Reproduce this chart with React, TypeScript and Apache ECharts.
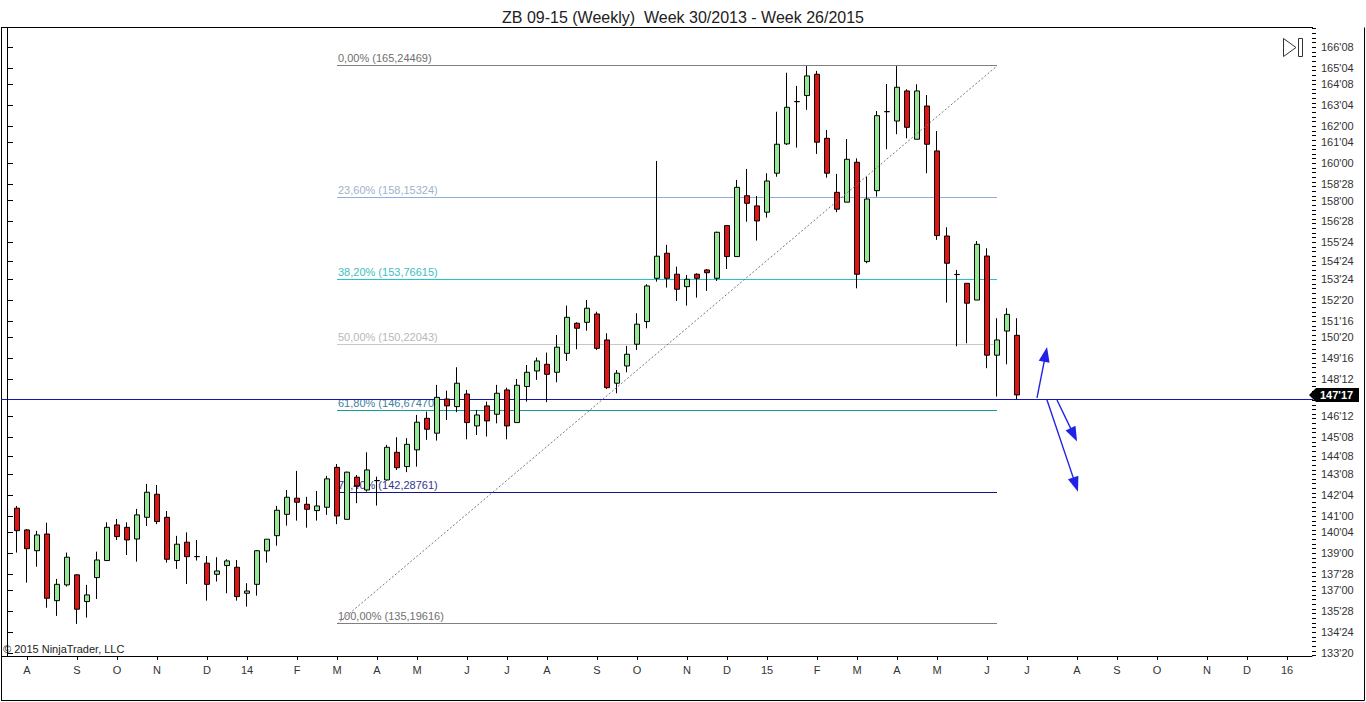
import React, { useEffect, useRef } from "react";
import * as echarts from "echarts";

const chartTitle = "ZB 09-15 (Weekly)  Week 30/2013 - Week 26/2015";
const copyright = "\u00a9 2015 NinjaTrader, LLC";

// weekly bars (Friday dates), week 30/2013 .. week 26/2015; slot 0 is an empty leading week
const firstSlotFriday = Date.UTC(2013, 6, 19);
const slotCount = 131;

const opens = [
  141.43, 140.26, 139.14, 140.04, 136.45, 137.3, 137.84, 136.4, 137.69, 138.61,
  140.53, 140.4, 139.77, 140.94, 142.18, 140.94, 138.61, 139.6, 138.83, 138.47,
  137.87, 138.34, 138.25, 136.85, 137.33, 139.13, 139.95, 141.1, 141.97, 141.64,
  141.3, 141.48, 143.63, 140.83, 143.1, 142.41, 142.92, 142.95, 144.44, 143.67,
  144.57, 146.27, 145.47, 147.31, 146.9, 147.58, 145.86, 146.94, 146.49, 147.8,
  146.04, 147.98, 148.82, 149.18, 148.75, 149.77, 151.39, 151.44, 151.89, 150.49,
  148.16, 149.09, 150.26, 151.48, 153.81, 155.16, 154.03, 153.36, 154.03, 154.26,
  153.81, 156.65, 154.98, 158.26, 157.71, 157.37, 159.47, 161.05, 163.33, 163.65,
  164.8, 161.35, 158.44, 157.91, 160.06, 154.71, 158.53, 162.79, 162.28, 163.9,
  161.3, 163.09, 160.67, 156.09, 154.02, 153.54, 152.64, 155.01, 149.67, 150.97,
  150.74,
];
const closes = [
  140.22, 139.25, 139.99, 136.58, 137.33, 138.79, 135.99, 136.76, 138.64, 140.4,
  139.9, 139.72, 141.07, 142.29, 140.71, 138.68, 139.49, 138.82, 138.82, 137.33,
  138.05, 138.59, 136.67, 136.97, 139.14, 139.76, 141.32, 142.02, 141.75, 141.37,
  141.55, 143.01, 141.01, 143.37, 142.63, 143.49, 142.91, 144.71, 143.61, 144.87,
  146.06, 145.68, 147.4, 146.94, 148.16, 146.04, 146.45, 146.13, 147.62, 145.86,
  148.05, 148.75, 149.36, 148.64, 150.1, 151.71, 151.12, 152.2, 150.04, 147.92,
  148.7, 149.72, 151.34, 153.4, 155.0, 153.81, 153.22, 153.76, 153.81, 154.11,
  156.29, 154.98, 158.71, 157.85, 156.9, 159.05, 161.03, 163.02, 163.32, 164.71,
  161.14, 159.47, 157.53, 160.22, 154.03, 158.08, 162.57, 162.78, 164.1, 161.94,
  163.9, 161.03, 156.11, 154.62, 154.01, 152.47, 155.64, 149.67, 150.49, 151.87,
  147.53,
];
const lows = [
  139.04, 137.42, 138.28, 136.07, 135.63, 137.21, 135.2, 135.54, 136.54, 138.61,
  139.72, 138.91, 138.55, 140.47, 140.57, 138.5, 138.16, 137.35, 138.61, 136.45,
  137.48, 136.85, 136.45, 136.13, 136.72, 138.5, 139.41, 140.49, 140.76, 140.38,
  140.76, 141.07, 140.57, 140.83, 141.7, 142.32, 141.57, 142.91, 143.49, 143.37,
  143.67, 145.11, 145.07, 146.18, 146.6, 145.14, 145.37, 145.29, 146.0, 145.14,
  146.04, 147.17, 148.34, 147.14, 148.21, 149.36, 149.99, 150.99, 149.95, 147.85,
  147.62, 148.75, 149.95, 151.12, 153.63, 153.31, 152.59, 152.34, 152.77, 153.13,
  153.67, 154.31, 154.98, 156.86, 155.84, 157.08, 159.28, 160.99, 160.85, 162.88,
  160.51, 159.23, 157.37, 157.91, 153.27, 154.62, 158.21, 160.76, 161.57, 161.35,
  161.3, 159.47, 155.88, 152.5, 150.15, 150.31, 152.64, 148.97, 147.44, 149.18,
  147.3,
];
const highs = [
  141.55, 140.31, 140.21, 140.65, 137.62, 139.04, 137.87, 137.3, 139.09, 140.67,
  140.85, 140.67, 141.39, 142.74, 142.68, 141.28, 139.94, 140.13, 139.72, 138.86,
  138.79, 138.68, 138.64, 137.39, 139.18, 139.76, 141.55, 142.41, 143.44, 142.04,
  142.36, 143.17, 143.81, 143.4, 143.22, 144.44, 143.13, 144.84, 145.25, 145.2,
  146.45, 146.63, 148.07, 147.76, 149.02, 147.8, 146.72, 147.17, 148.07, 147.92,
  148.39, 149.14, 149.54, 149.81, 150.76, 152.34, 151.44, 152.64, 152.01, 150.85,
  148.87, 150.17, 151.93, 153.49, 160.13, 155.61, 154.44, 153.99, 154.08, 154.31,
  156.32, 156.68, 159.11, 159.7, 158.24, 159.47, 162.78, 164.88, 164.17, 165.24,
  164.98, 161.8, 159.43, 161.31, 160.27, 159.28, 162.82, 164.28, 165.24, 163.99,
  164.26, 163.68, 161.74, 156.56, 154.26, 153.54, 155.82, 155.43, 151.66, 152.2,
  151.66,
];

const yTickLabels = [
  "166'08", "165'04", "164'08", "163'04", "162'00", "161'04", "160'00", "158'28",
  "158'00", "156'28", "155'24", "154'24", "153'24", "152'20", "151'16", "150'20",
  "149'16", "148'12", "146'12", "145'08", "144'08", "143'08", "142'04", "141'00",
  "140'04", "139'00", "137'28", "137'00", "135'28", "134'24", "133'20",
];
const monthLetters = ["", "F", "M", "A", "M", "J", "J", "A", "S", "O", "N", "D"];

const fibLevels = [0, 23.6, 38.2, 50, 61.8, 76.4, 100];
const fibPrices = [165.24469, 158.15324, 153.76615, 150.22043, 146.6747, 142.28761, 135.19616];
const fibStartSlot = 33;
const fibEndSlot = 99;
const horizontalLinePrice = 147.3;

// hand-drawn arrows: [slot, price] at the tail and at the arrow-head centre
const arrowFrom = [[103, 147.37], [105, 147.26], [104, 147.26]];
const arrowTo = [[103.86, 149.71], [106.68, 145.38], [106.86, 142.7]];

const fibLineColors = ["#808080", "#8eaee0", "#22c6c6", "#c8c8c8", "#189898", "#141488", "#808080"];
const fibTextColors = ["#707070", "#a0b2cc", "#40c0c0", "#b8b8b8", "#40809e", "#34348e", "#707070"];

const FONT = "Arial, 'Liberation Sans', sans-serif";

function parse32(s: string): number {
  const [w, t] = s.split("'");
  return Number(w) + Number(t) / 32;
}
function fmt32(v: number): string {
  let w = Math.floor(v + 1e-9);
  let t = Math.round((v - w) * 32);
  if (t === 32) {
    w += 1;
    t = 0;
  }
  return w + "'" + String(t).padStart(2, "0");
}
const fibText = (lvl: number, p: number) =>
  lvl.toFixed(2).replace(".", ",") + "% (" + p.toFixed(5).replace(".", ",") + ")";

const categories: string[] = [];
for (let i = 0; i < slotCount; i++) {
  categories.push(new Date(firstSlotFriday + i * 7 * 86400000).toISOString().slice(0, 10));
}
const isMonthStart = (i: number) =>
  i > 0 && categories[i].slice(5, 7) !== categories[i - 1].slice(5, 7);

const candleData = opens.map((o, i) => [i + 1, o, closes[i], lows[i], highs[i]]);

const labelValues = yTickLabels.map(parse32);
const minorValues: number[] = [];
for (let v = 133.5; v <= 167.25; v += 0.25) minorValues.push(v);

const Y_MIN = 133.47;
const Y_MAX = 167.29;

const diagonal = [
  {
    coord: [fibStartSlot, fibPrices[6]],
    lineStyle: { color: "#777", width: 1, type: [2, 2] },
    label: { show: false },
  },
  { coord: [fibEndSlot, fibPrices[0]] },
];

const arrows = arrowFrom.map((f, k) => [
  {
    coord: f,
    symbol: "none",
    lineStyle: { color: "#2222e6", width: 1.4, type: "solid" },
    label: { show: false },
  },
  { coord: arrowTo[k], symbol: "triangle", symbolSize: [11, 15] },
]);

const option: any = {
  animation: false,
  backgroundColor: "#ffffff",
  textStyle: { fontFamily: FONT },
  title: {
    text: chartTitle,
    left: "center",
    top: 4,
    textStyle: { fontSize: 16, fontWeight: "normal", color: "#222", fontFamily: FONT },
  },
  grid: { left: 2, top: 28, width: 1310, height: 628 },
  xAxis: [
    {
      type: "category",
      data: categories,
      boundaryGap: true,
      axisLine: { show: true, lineStyle: { color: "#000", width: 1 } },
      axisTick: {
        show: true,
        alignWithLabel: true,
        interval: (i: number) => isMonthStart(i),
        length: 4,
        lineStyle: { color: "#000" },
      },
      axisLabel: {
        interval: (i: number) => isMonthStart(i),
        formatter: (v: string) => {
          const m = Number(v.slice(5, 7));
          return m === 1 ? v.slice(2, 4) : monthLetters[m - 1];
        },
        color: "#333",
        fontSize: 11,
        margin: 8,
        fontFamily: FONT,
      },
      splitLine: { show: false },
    },
    {
      type: "value",
      min: -0.5,
      max: slotCount - 0.5,
      show: false,
    },
  ],
  yAxis: [
    {
      type: "value",
      position: "right",
      min: Y_MIN,
      max: Y_MAX,
      scale: true,
      axisLine: { show: true, lineStyle: { color: "#000", width: 1 } },
      axisTick: { show: true, customValues: labelValues, length: 6, lineStyle: { color: "#000" } },
      axisLabel: {
        show: true,
        customValues: labelValues,
        formatter: (v: number) => fmt32(v),
        color: "#333",
        fontSize: 11,
        margin: 9,
        fontFamily: FONT,
      },
      splitLine: { show: false },
    },
    {
      type: "value",
      position: "right",
      min: Y_MIN,
      max: Y_MAX,
      scale: true,
      axisLine: { show: false },
      axisTick: { show: true, customValues: minorValues, length: 4, lineStyle: { color: "#000" } },
      axisLabel: { show: false },
      splitLine: { show: false },
    },
  ],
  series: [
    {
      type: "candlestick",
      xAxisIndex: 0,
      yAxisIndex: 0,
      data: candleData,
      encode: { x: 0, y: [1, 2, 3, 4] },
      barWidth: 5,
      itemStyle: {
        color: "#94e894",
        color0: "#e01414",
        borderColor: "#000",
        borderColor0: "#000",
        borderWidth: 1,
      },
      emphasis: { disabled: true },
      silent: true,
    },
    {
      type: "line",
      xAxisIndex: 1,
      yAxisIndex: 0,
      data: [],
      silent: true,
      markLine: {
        silent: true,
        animation: false,
        symbol: ["none", "none"],
        label: { show: false },
        emphasis: { disabled: true },
        data: [diagonal, ...arrows],
      },
    },
  ],
};

function buildGraphic(chart: any): any[] {
  const px = (slot: number) => chart.convertToPixel({ xAxisIndex: 1 }, slot) as number;
  const py = (price: number) => chart.convertToPixel({ yAxisIndex: 0 }, price) as number;
  const snap = (v: number) => Math.floor(v) + 0.5;
  const line = (x1: number, y1: number, x2: number, y2: number, stroke = "#000") => ({
    type: "line",
    silent: true,
    shape: { x1, y1, x2, y2 },
    style: { stroke, lineWidth: 1 },
  });
  const out: any[] = [
    line(1.5, 27.5, 1.5, 700.5),
    line(1, 27.5, 1313, 27.5),
    line(1, 700.5, 1364.5, 700.5),
    line(1364.5, 27.5, 1364.5, 700.5),
    {
      type: "text",
      left: 3,
      top: 643,
      silent: true,
      style: { text: copyright, fill: "#222", font: "11px " + FONT },
    },
    {
      type: "polygon",
      silent: true,
      shape: { points: [[1283.5, 38.5], [1296, 47.5], [1283.5, 56.5]] },
      style: { fill: "none", stroke: "#333", lineWidth: 1 },
    },
    {
      type: "rect",
      silent: true,
      shape: { x: 1298.5, y: 38.5, width: 4, height: 18 },
      style: { fill: "none", stroke: "#333", lineWidth: 1 },
    },
  ];
  // Fibonacci retracement levels
  const x1 = Math.round(px(fibStartSlot));
  const x2 = Math.round(px(fibEndSlot));
  fibLevels.forEach((lvl, k) => {
    const y = snap(py(fibPrices[k]));
    out.push(line(x1, y, x2, y, fibLineColors[k]));
    out.push({
      type: "text",
      silent: true,
      x: x1 + 1,
      y: y - 2,
      style: {
        text: fibText(lvl, fibPrices[k]),
        fill: fibTextColors[k],
        font: "11px " + FONT,
        verticalAlign: "bottom",
        align: "left",
      },
    });
  });
  // horizontal line across the whole panel
  const hy = snap(py(horizontalLinePrice));
  out.push(line(1, hy, 1313, hy, "#1616b4"));
  // last price marker
  const lastClose = closes[closes.length - 1];
  const my = py(lastClose);
  out.push({
    type: "polygon",
    silent: true,
    shape: {
      points: [
        [1309, my],
        [1316, my - 7],
        [1359, my - 7],
        [1359, my + 7],
        [1316, my + 7],
      ],
    },
    style: { fill: "#000" },
  });
  out.push({
    type: "text",
    silent: true,
    x: 1320,
    y: my,
    style: {
      text: fmt32(lastClose),
      fill: "#fff",
      font: "bold 11px " + FONT,
      verticalAlign: "middle",
      align: "left",
    },
  });
  return out;
}

export default function App() {
  const ref = useRef<HTMLDivElement>(null);
  useEffect(() => {
    if (!ref.current) return;
    const chart = echarts.init(ref.current, null, { renderer: "svg" });
    chart.setOption(option);
    chart.setOption({ graphic: buildGraphic(chart) });
    return () => chart.dispose();
  }, []);
  return (
    <div
      ref={ref}
      style={{ position: "fixed", left: 0, top: 0, width: 1366, height: 702, background: "#fff" }}
    />
  );
}
